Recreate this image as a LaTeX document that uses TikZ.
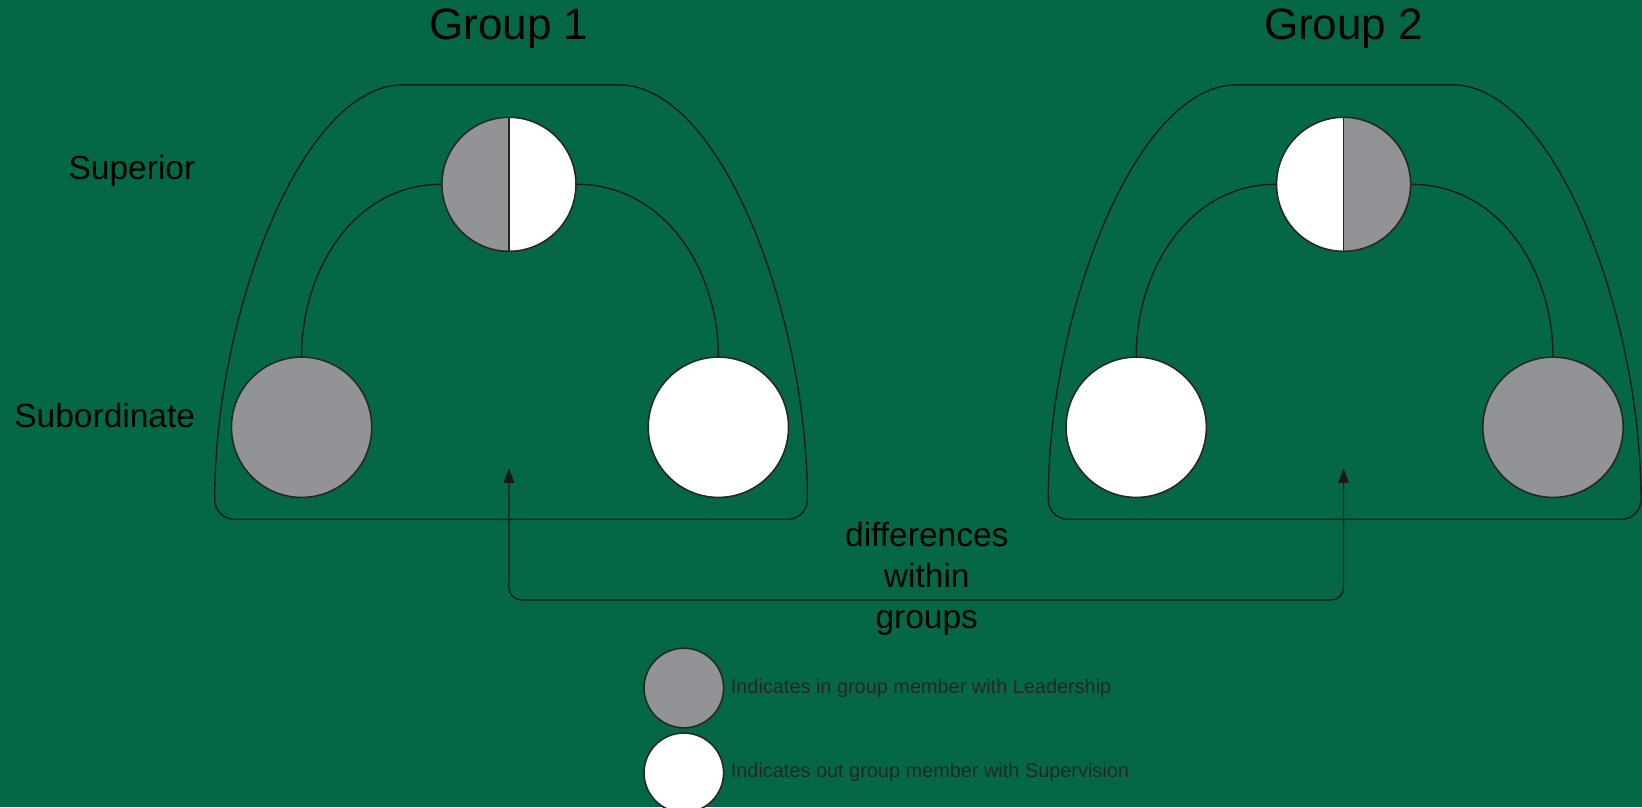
\documentclass[tikz,border=0pt]{standalone}
\usepackage{fontspec}
\setmainfont{Liberation Sans}
\usepackage{tikz}
\usetikzlibrary{arrows.meta, positioning, calc}
\definecolor{Field_Green}{RGB}{4,104,70}
\definecolor{Lead_Gray}{RGB}{146,147,151}

\begin{document}
\begin{tikzpicture}[
    x=1pt, y=-1pt,
    member/.style={circle, draw=black!85, line width=1.5pt, inner sep=0pt,
                   minimum size=134pt},
    senior/.style={member, minimum size=128pt, fill=white},
    keydot/.style={member, minimum size=76pt},
    halfgray/.style={path picture={
        \fill[Lead_Gray] (path picture bounding box.north #1) rectangle (path picture bounding box.south);
        \draw[black!85, line width=1.5pt] (path picture bounding box.north) -- (path picture bounding box.south);}},
    grouptitle/.style={font=\fontsize{42}{50}\selectfont},
    rowlabel/.style={font=\fontsize{32}{39}\selectfont},
    keytext/.style={font=\fontsize{19}{23}\selectfont, text=black!85, inner sep=0pt},
    link/.style={line width=1.3pt, black!90},
    arrow/.style={link, {Triangle[length=14pt, width=10pt]}-{Triangle[length=14pt, width=10pt]}}
]

\fill[Field_Green] (0,0) rectangle (1568,771);
\useasboundingbox (0,0) rectangle (1568,771);

\foreach \cx in {488,1284}
  \draw[link] (\cx-103,81) -- (\cx+103,81)
    .. controls (\cx+200,81) and (\cx+283,300) .. (\cx+283,477)
    to[out=-90, in=0] (\cx+264,496) -- (\cx-264,496)
    to[out=180, in=-90] (\cx-283,477)
    .. controls (\cx-283,300) and (\cx-200,81) .. (\cx-103,81) -- cycle;

\node[grouptitle] (g1) at (486,27) {Group 1};
\node[grouptitle] (g2) at (1283,27) {Group 2};
\node[rowlabel] (suplabel) at (126,163) {Superior};
\node[rowlabel] (sublabel) at (100,397) {Subordinate};

\node[senior, halfgray=west] (sup1) at (486,176) {};
\node[member, fill=Lead_Gray] (lead1) at (288,408) {};
\node[member, fill=white] (out1) at (686,408) {};

\node[senior, halfgray=east] (sup2) at (1283,176) {};
\node[member, fill=white] (out2) at (1085,408) {};
\node[member, fill=Lead_Gray] (lead2) at (1483,408) {};

\draw[link] (sup1.west) to[out=180, in=90] (lead1.north);
\draw[link] (sup1.east) to[out=0, in=90] (out1.north);
\draw[link] (sup2.west) to[out=180, in=90] (out2.north);
\draw[link] (sup2.east) to[out=0, in=90] (lead2.north);

\coordinate (tip1) at (486,447);
\coordinate (tip2) at (1283,447);
\coordinate (low) at (885,573);
\draw[arrow, rounded corners=12pt] (tip1) -- (tip1 |- low) -- (tip2 |- low) -- (tip2);
\node[rowlabel, align=center] (diff) at (885,553) {differences\\within\\groups};

\node[keydot, fill=Lead_Gray] (keylead) at (653,657) {};
\node[keytext, right=6pt of keylead] (leadtext) {Indicates in group member with Leadership};
\node[keydot, fill=white] (keyout) at (653,738) {};
\node[keytext, right=6pt of keyout] (outtext) {Indicates out group member with Supervision};

\end{tikzpicture}
\end{document}
